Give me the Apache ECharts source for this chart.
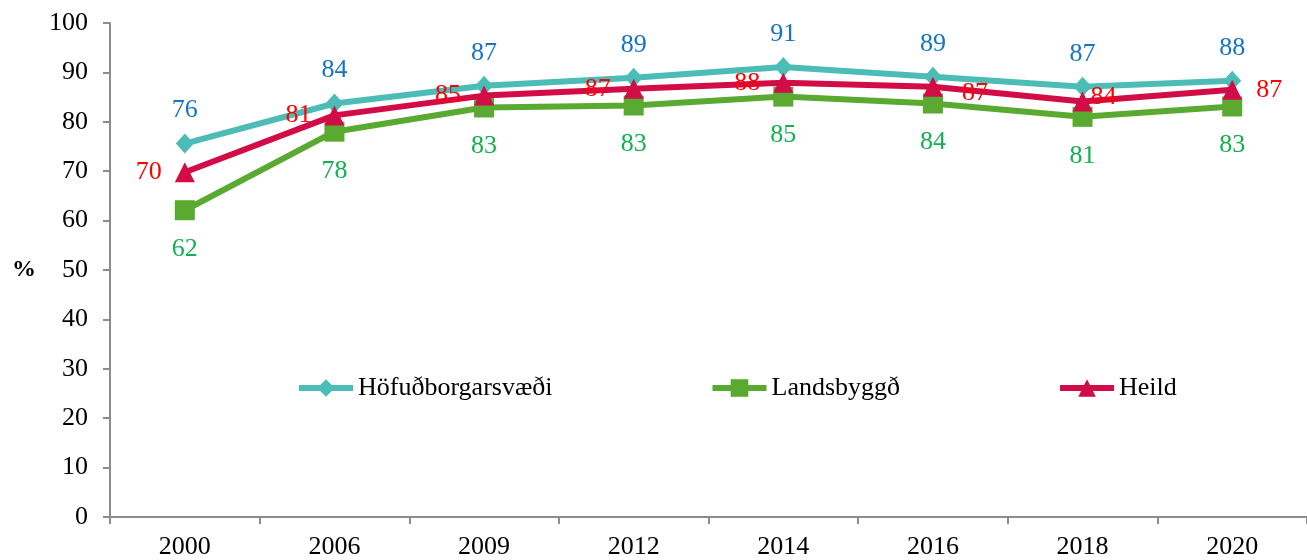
<!DOCTYPE html>
<html>
<head>
<meta charset="utf-8">
<script src="https://cdn.jsdelivr.net/npm/echarts@6/dist/echarts.min.js"></script>
<style>
  html, body { margin: 0; padding: 0; background: #fff; }
  #chart { width: 1307px; height: 560px; }
</style>
</head>
<body>
<div id="chart"></div>
<script>
// data
const years = ["2000", "2006", "2009", "2012", "2014", "2016", "2018", "2020"];
const hofud = [75.6, 83.7, 87.3, 88.9, 91.1, 89.1, 87.1, 88.3];
const landsbyggd = [62.1, 78.0, 82.9, 83.3, 85.1, 83.7, 81.0, 83.1];
const heild = [69.8, 81.3, 85.3, 86.7, 87.9, 87.1, 84.1, 86.5];
const seriesNames = ["Höfuðborgarsvæði", "Landsbyggð", "Heild"];

const font = "Liberation Serif";
const axisGray = "#8c8c8c";

const chart = echarts.init(document.getElementById("chart"));

// Heild labels sit left of the point for the early years, right for the later ones
function heildLabel(i) {
    if (i < 5) return { position: "left", distance: 13 };
    if (i === 6) return { position: "right", distance: -2, offset: [0, -4] };
    if (i === 7) return { position: "right", distance: 14 };
    return { position: "right", distance: 19, offset: [0, 6] };
}

const option = {
    animation: false,
    textStyle: { fontFamily: font },
    grid: {
        left: 110,
        top: 23,
        width: 1200,
        bottom: 41
    },
    legend: {
        left: 296,
        top: 375,
        padding: 0,
        itemGap: 157,
        itemWidth: 54,
        itemHeight: 22,
        lineStyle: { width: 6 },
        textStyle: { fontFamily: font, fontSize: 26, color: "#000" },
        data: seriesNames
    },
    xAxis: {
        type: "category",
        data: years,
        boundaryGap: true,
        axisLine: { lineStyle: { color: axisGray, width: 2 } },
        axisTick: { show: true, length: 7, lineStyle: { color: axisGray, width: 2 } },
        axisLabel: { fontFamily: font, fontSize: 26, color: "#000", margin: 17 },
        splitLine: { show: false }
    },
    yAxis: {
        type: "value",
        min: 0,
        max: 100,
        interval: 10,
        name: "%",
        nameLocation: "middle",
        nameRotate: 0,
        nameGap: 74,
        nameTextStyle: { fontFamily: font, fontSize: 24, fontWeight: "bold", color: "#000" },
        axisLine: { show: true, lineStyle: { color: axisGray, width: 2 } },
        axisTick: { show: true, length: 7, lineStyle: { color: axisGray, width: 2 } },
        axisLabel: { fontFamily: font, fontSize: 26, color: "#000", margin: 22 },
        splitLine: { show: false }
    },
    series: [
        {
            name: seriesNames[0],
            type: "line",
            data: hofud,
            symbol: "diamond",
            symbolSize: [18, 20],
            z: 3,
            lineStyle: { color: "#4bbdb6", width: 6 },
            itemStyle: { color: "#4bbdb6" },
            label: {
                show: true,
                position: "top",
                distance: 10,
                fontFamily: font,
                fontSize: 26,
                color: "#1574c6",
                formatter: (p) => Math.round(p.value)
            }
        },
        {
            name: seriesNames[1],
            type: "line",
            data: landsbyggd,
            symbol: "rect",
            symbolSize: 20,
            z: 2,
            lineStyle: { color: "#5aaa32", width: 6 },
            itemStyle: { color: "#5aaa32" },
            label: {
                show: true,
                position: "bottom",
                distance: 16,
                fontFamily: font,
                fontSize: 26,
                color: "#12b050",
                formatter: (p) => Math.round(p.value)
            }
        },
        {
            name: seriesNames[2],
            type: "line",
            data: heild.map((v, i) => ({ value: v, label: heildLabel(i) })),
            symbol: "triangle",
            symbolSize: [20, 20],
            z: 4,
            lineStyle: { color: "#d20c46", width: 6 },
            itemStyle: { color: "#d20c46" },
            label: {
                show: true,
                fontFamily: font,
                fontSize: 26,
                color: "#ff0000",
                formatter: (p) => Math.round(p.value)
            }
        }
    ]
};

chart.setOption(option);
</script>
</body>
</html>
